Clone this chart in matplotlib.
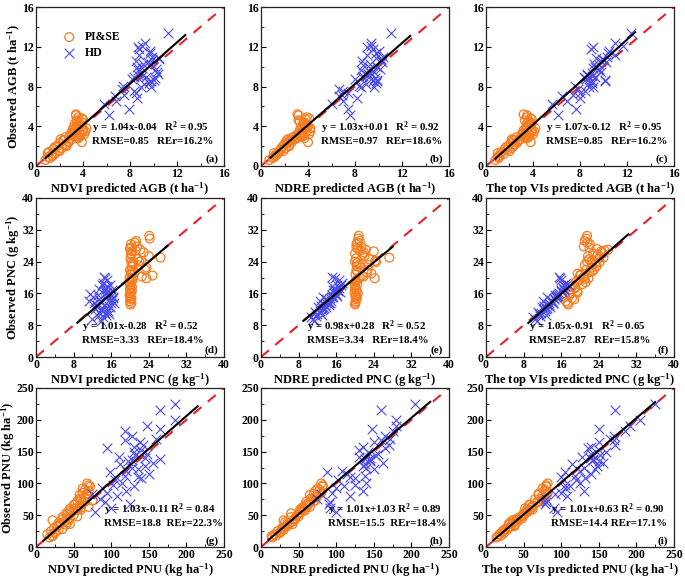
import matplotlib
matplotlib.use("Agg")
import matplotlib.pyplot as plt
from matplotlib.ticker import MultipleLocator

plt.rcParams['font.family'] = ['Liberation Serif', 'DejaVu Serif']
plt.rcParams['font.weight'] = 'bold'
plt.rcParams['mathtext.fontset'] = 'custom'
plt.rcParams['mathtext.rm'] = 'Liberation Serif:bold'
plt.rcParams['mathtext.it'] = 'Liberation Serif:bold'
plt.rcParams['mathtext.bf'] = 'Liberation Serif:bold'

# ---------------- data ----------------
# Row 1: AGB (t ha-1)
obs_agb_pise = [0.6, 0.9, 1.1, 0.8, 1.4, 1.2, 1.7, 1.5, 2.0, 1.8, 2.3, 2.1, 2.6, 2.4, 2.9, 2.7, 3.1, 3.3, 2.8, 3.6,
                3.4, 3.9, 3.2, 4.2, 3.7, 4.5, 3.0, 4.8, 3.5, 5.1, 2.5, 4.0, 3.8, 4.4, 2.2, 3.3, 4.9, 1.6, 2.9, 3.6,
                1.0, 1.9, 2.6, 3.0, 3.9, 4.1, 4.6, 5.2, 2.0, 2.7, 3.5, 4.3, 1.3, 3.1, 4.7, 2.4, 2.8, 3.2]
obs_agb_hd = [5.1, 6.2, 7.0, 5.7, 8.1, 6.8, 7.5, 9.2, 8.6, 10.3, 7.9, 9.8, 8.4, 11.2, 9.0, 10.7, 8.8, 12.1, 9.5, 11.6,
              7.3, 10.0, 8.3, 12.4, 9.3, 13.4, 10.5, 8.9, 11.0, 9.7, 7.7, 10.9, 8.6, 9.1, 11.8,
              7.1, 8.0, 9.9, 10.6, 11.4, 8.7, 9.4, 10.2, 6.5, 12.0, 9.0, 10.8]
ndvi_agb_pise = [0.8, 1.0, 1.3, 1.2, 1.1, 1.6, 1.5, 2.0, 1.8, 2.2, 2.0, 2.5, 2.3, 2.8, 2.5, 3.0, 2.9, 3.2, 3.4, 3.3,
                 3.7, 3.4, 3.8, 3.6, 4.0, 3.5, 3.2, 3.9, 4.2, 3.4, 2.8, 3.6, 4.3, 3.9, 2.6, 3.0, 3.6, 1.9, 3.7, 3.1,
                 1.4, 1.6, 2.4, 3.5, 3.2, 3.9, 3.5, 3.4, 2.6, 2.1, 4.0, 3.3, 1.0, 3.8, 4.0, 3.9, 3.6, 4.1]
ndvi_agb_hd = [6.2, 5.8, 6.7, 7.9, 7.4, 8.6, 8.3, 8.7, 9.8, 9.1, 8.9, 10.2, 9.6, 8.8, 9.4, 9.9, 8.2, 9.0, 10.3, 9.7,
               8.5, 8.6, 9.2, 9.3, 10.4, 11.2, 9.5, 10.1, 9.9, 8.7, 7.3, 10.5, 9.7, 9.0, 8.8,
               7.5, 9.8, 9.0, 8.5, 9.7, 10.0, 8.9, 9.6, 6.8, 8.7, 8.3, 10.5]
ndre_agb_pise = [0.7, 1.1, 1.2, 1.0, 1.5, 1.4, 1.7, 1.9, 1.9, 2.1, 2.2, 2.4, 2.5, 2.6, 2.7, 2.9, 3.0, 3.3, 3.1, 3.5,
                 3.6, 3.7, 3.5, 3.9, 3.8, 3.3, 3.4, 4.1, 3.9, 3.2, 2.4, 4.0, 4.2, 3.7, 2.0, 3.4, 3.9, 1.7, 3.0, 3.3,
                 1.2, 1.8, 2.2, 3.6, 3.4, 3.7, 3.2, 3.1, 2.4, 2.3, 4.2, 3.6, 1.1, 3.6, 3.8, 4.0, 3.7, 4.1]
ndre_agb_hd = [7.6, 6.0, 6.6, 7.4, 8.3, 8.2, 7.0, 9.0, 9.5, 9.3, 8.5, 10.1, 9.8, 9.0, 9.2, 10.2, 8.0, 9.4, 9.6, 10.0,
               7.4, 9.9, 8.9, 9.4, 9.1, 11.1, 10.3, 9.7, 10.4, 8.5, 6.6, 9.8, 9.9, 8.7, 9.5,
               6.9, 9.6, 9.3, 8.6, 9.8, 9.9, 9.4, 8.7, 7.0, 9.0, 8.6, 10.2]
top_agb_pise = [0.8, 1.0, 1.2, 1.1, 1.3, 1.5, 1.6, 2.0, 1.9, 2.2, 2.1, 2.4, 2.4, 2.7, 2.6, 2.9, 3.0, 3.2, 3.3, 3.4,
                3.6, 3.5, 3.6, 3.8, 3.9, 3.6, 3.3, 3.8, 4.1, 3.5, 2.7, 3.7, 4.2, 3.8, 2.5, 3.1, 3.5, 1.8, 3.6, 3.2,
                1.1, 1.7, 2.3, 3.4, 3.4, 3.8, 3.3, 3.2, 2.3, 2.2, 3.9, 3.5, 1.0, 3.7, 3.9, 3.8, 3.5, 4.0]
top_agb_hd = [6.1, 5.6, 6.5, 7.7, 7.6, 8.0, 8.4, 8.6, 9.0, 9.2, 8.8, 9.6, 9.0, 11.0, 9.3, 10.0, 8.5, 11.7, 9.8, 10.5,
              8.0, 9.3, 8.7, 11.0, 8.6, 12.3, 10.2, 8.4, 10.3, 9.5, 7.8, 9.4, 10.1, 9.0, 8.9,
              7.4, 9.1, 9.1, 9.8, 10.4, 10.1, 9.0, 9.6, 6.9, 9.1, 8.3, 9.9]

# Row 2: PNC (g kg-1)
obs_pnc_pise = [13.2, 14.0, 14.8, 15.5, 16.2, 17.0, 17.6, 18.3, 19.0, 19.6, 20.2, 20.8, 21.3, 21.9, 22.5, 23.1, 23.6,
                24.2, 24.8, 25.4, 26.0, 26.6, 27.2, 27.8, 28.4, 29.2, 30.5, 19.3, 22.0, 25.0, 15.1, 23.9, 20.5, 27.0,
                18.0, 21.5, 26.3, 24.6, 29.8, 16.6,
                14.5, 16.0, 18.8, 20.0, 21.0, 22.8, 24.0, 25.8, 27.5, 28.8, 13.6, 17.3, 19.8, 23.3, 26.8]
obs_pnc_hd = [9.6, 13.2, 10.4, 15.1, 11.8, 16.7, 12.5, 14.3, 19.8, 13.9, 10.9, 17.4, 15.6, 12.1, 18.6, 14.8, 11.3,
              16.2, 13.5, 15.9, 20.1, 12.8, 14.0, 17.9, 10.1, 15.3, 13.0, 16.9, 11.6, 14.6, 18.2, 12.3, 15.0, 13.7, 16.4,
              9.0, 11.0, 12.7, 14.2, 15.5, 16.8, 18.0, 19.3, 13.6, 15.2, 10.6, 17.1]
ndvi_pnc_pise = [20.1, 20.0, 20.3, 19.9, 20.2, 20.0, 20.4, 20.1, 19.9, 20.3, 22.5, 20.2, 21.0, 20.0, 23.5, 21.8, 20.6,
                 22.4, 20.1, 24.0, 20.3, 20.4, 20.0, 21.5, 20.2, 21.3, 24.1, 20.5, 23.2, 26.5, 20.0, 20.3, 24.8, 22.2,
                 20.1, 20.2, 22.9, 21.6, 24.2, 20.4,
                 20.2, 20.0, 20.1, 19.9, 20.5, 20.3, 22.0, 20.2, 20.1, 21.0, 20.3, 20.0, 23.5, 20.7, 21.2]
ndvi_pnc_hd = [12.0, 14.5, 13.2, 15.0, 14.1, 15.3, 13.0, 16.1, 14.6, 13.8, 15.6, 14.9, 15.2, 12.6, 14.3, 16.4, 13.5,
               14.8, 15.9, 11.5, 14.4, 15.5, 13.7, 15.1, 14.2, 16.0, 12.9, 14.7, 15.4, 13.3, 15.8, 14.0, 16.3, 12.3, 14.9,
               13.8, 14.6, 15.8, 11.2, 13.2, 16.2, 14.0, 15.2, 16.5, 12.1, 14.8, 13.5]
ndre_pnc_pise = [20.0, 20.1, 20.4, 20.2, 19.9, 20.3, 20.0, 20.5, 20.2, 20.6, 21.8, 20.1, 22.5, 20.3, 21.2, 22.9, 20.4,
                 24.3, 20.2, 22.0, 20.0, 24.0, 20.6, 21.4, 20.3, 21.0, 20.8, 20.2, 22.7, 27.3, 20.1, 24.5, 21.5, 22.3,
                 20.0, 20.5, 21.9, 23.0, 20.7, 20.3,
                 20.2, 20.6, 20.1, 21.0, 23.5, 20.4, 20.0, 21.6, 20.3, 20.5, 20.1, 20.0, 24.2, 20.9, 21.1]
ndre_pnc_hd = [11.0, 13.6, 11.8, 15.2, 12.9, 16.4, 12.2, 14.1, 15.8, 14.3, 12.0, 16.6, 15.9, 13.1, 17.3, 14.6, 11.4,
               15.5, 13.8, 16.0, 15.2, 12.7, 14.9, 15.0, 10.6, 16.2, 14.4, 15.7, 12.5, 13.9, 17.0, 13.4, 15.3, 14.7, 16.8,
               11.2, 12.5, 13.9, 12.6, 15.0, 15.3, 16.1, 16.6, 14.5, 13.2, 12.9, 15.8]
top_pnc_pise = [17.5, 17.0, 18.3, 17.8, 19.5, 18.0, 19.0, 20.5, 19.2, 21.0, 20.8, 20.2, 22.0, 21.3, 22.4, 21.0, 23.2,
                22.5, 24.0, 21.7, 22.8, 24.5, 23.6, 20.8, 22.1, 21.0, 21.5, 19.8, 23.0, 25.0, 16.8, 24.2, 20.0, 26.0,
                18.5, 22.6, 24.8, 21.9, 21.3, 19.4,
                18.8, 18.0, 21.2, 20.7, 19.5, 23.5, 21.5, 23.8, 22.0, 21.6, 17.3, 19.0, 21.8, 22.5, 25.2]
top_pnc_hd = [10.5, 13.0, 11.5, 14.9, 12.4, 16.0, 12.0, 13.8, 15.8, 14.1, 11.2, 16.3, 15.2, 12.8, 17.0, 14.5, 11.0,
              15.6, 13.3, 15.4, 15.5, 12.3, 14.0, 16.8, 10.0, 15.0, 13.5, 16.5, 12.6, 14.4, 17.6, 12.9, 14.8, 14.2, 16.1,
              10.8, 11.8, 13.6, 12.2, 14.7, 15.9, 16.3, 16.0, 14.3, 13.0, 12.7, 16.6]

# Row 3: PNU (kg ha-1)
obs_pnu_pise = [15, 18, 20, 22, 25, 27, 30, 32, 35, 37, 40, 42, 45, 47, 50, 52, 55, 58, 60, 62, 65, 67, 70, 72, 75,
                78, 80, 82, 85, 88, 90, 95, 100, 38, 48, 57, 63, 73, 28, 43,
                17, 24, 33, 39, 44, 53, 59, 66, 71, 76, 84, 92, 97, 36, 61]
obs_pnu_hd = [55, 62, 68, 75, 80, 85, 88, 92, 96, 100, 105, 108, 112, 115, 118, 122, 125, 128, 132, 135, 138, 142,
              146, 150, 155, 160, 165, 170, 175, 182, 190, 200, 215, 225, 140,
              70, 84, 98, 110, 120, 130, 137, 145, 152, 158, 168, 185]
ndvi_pnu_pise = [18, 22, 15, 25, 20, 30, 24, 28, 40, 33, 38, 22, 45, 35, 50, 42, 48, 55, 45, 60, 58, 52, 62, 55, 60,
                 65, 68, 58, 62, 70, 65, 72, 68, 30, 55, 45, 70, 75, 35, 42,
                 22, 26, 28, 42, 36, 40, 60, 50, 65, 58, 68, 62, 70, 45, 52]
ndvi_pnu_hd = [78, 100, 125, 85, 108, 95, 120, 88, 130, 115, 105, 140, 118, 150, 98, 135, 128, 145, 155, 122, 165,
               110, 148, 130, 95, 142, 138, 160, 128, 118, 148, 185, 165, 185, 145,
               92, 75, 102, 135, 120, 112, 128, 132, 140, 130, 118, 165]
ndre_pnu_pise = [15, 20, 18, 25, 22, 30, 28, 32, 35, 38, 42, 30, 45, 40, 48, 50, 52, 55, 58, 55, 62, 60, 65, 70, 68,
                 72, 75, 65, 80, 72, 78, 82, 80, 35, 50, 58, 65, 72, 28, 45,
                 14, 26, 35, 32, 45, 40, 52, 62, 60, 66, 70, 75, 82, 42, 55]
ndre_pnu_hd = [100, 92, 90, 75, 118, 95, 135, 100, 110, 140, 102, 125, 138, 115, 88, 150, 140, 135, 162, 145, 138,
               130, 155, 142, 165, 170, 150, 172, 165, 175, 180, 180, 160, 205, 145,
               92, 80, 125, 118, 108, 138, 145, 152, 130, 135, 160, 148]
top_pnu_pise = [14, 20, 18, 24, 22, 28, 30, 33, 38, 35, 42, 35, 48, 45, 50, 52, 55, 58, 55, 60, 62, 58, 68, 72, 65,
                78, 75, 70, 82, 80, 78, 80, 82, 32, 48, 55, 62, 75, 25, 42,
                16, 22, 38, 36, 40, 50, 62, 58, 68, 74, 70, 75, 80, 30, 52]
top_pnu_hd = [95, 90, 78, 80, 108, 100, 130, 105, 112, 125, 120, 132, 118, 140, 105, 145, 130, 148, 155, 150, 142,
              128, 140, 160, 135, 172, 150, 165, 170, 185, 192, 205, 172, 225, 138,
              80, 92, 105, 100, 125, 115, 142, 152, 150, 140, 170, 150]

# Regression lines (slope, intercept, x start, x end) and statistics
slopes = [1.04, 1.03, 1.07, 1.01, 0.98, 1.05, 1.03, 1.01, 1.01]
intercepts = [-0.04, 0.01, -0.12, -0.28, 0.28, -0.91, -0.11, 1.03, 0.63]
fit_x0 = [0.8, 0.8, 0.8, 8.8, 9.0, 9.0, 10, 10, 10]
fit_x1 = [12.7, 12.7, 12.7, 28.0, 28.0, 30.3, 215, 225, 225]
eq_text = ["y = 1.04x-0.04   R$^2$ = 0.95", "y = 1.03x+0.01   R$^2$ = 0.92", "y = 1.07x-0.12   R$^2$ = 0.95",
           "y = 1.01x-0.28   R$^2$ = 0.52", "y = 0.98x+0.28   R$^2$ = 0.52", "y = 1.05x-0.91   R$^2$ = 0.65",
           "y = 1.03x-0.11 R$^2$ = 0.84", "y = 1.01x+1.03 R$^2$ = 0.89", "y = 1.01x+0.63 R$^2$ = 0.90"]
err_text = ["RMSE=0.85   REr=16.2%", "RMSE=0.97   REr=18.6%", "RMSE=0.85   REr=16.2%",
            "RMSE=3.33   REr=18.4%", "RMSE=3.34   REr=18.4%", "RMSE=2.87   REr=15.8%",
            "RMSE=18.8  REr=22.3%", "RMSE=15.5  REr=18.4%", "RMSE=14.4 REr=17.1%"]
panel_tags = ["(a)", "(b)", "(c)", "(d)", "(e)", "(f)", "(g)", "(h)", "(i)"]
x_labels = ["NDVI predicted AGB (t ha$^{-1}$)", "NDRE predicted AGB (t ha$^{-1}$)", "The top VIs predicted AGB (t ha$^{-1}$)",
            "NDVI predicted PNC (g kg$^{-1}$)", "NDRE predicted PNC (g kg$^{-1}$)", "The top VIs predicted PNC (g kg$^{-1}$)",
            "NDVI predicted PNU (kg ha$^{-1}$)", "NDRE predicted PNU (kg ha$^{-1}$)", "The top VIs predicted PNU (kg ha$^{-1}$)"]
y_labels = ["Observed AGB (t ha$^{-1}$)", "Observed PNC (g kg$^{-1}$)", "Observed PNU (kg ha$^{-1}$)"]
legend_labels = ["PI&SE", "HD"]
axis_max = [16, 40, 250]
major_step = [4, 8, 50]

pred_pise = [ndvi_agb_pise, ndre_agb_pise, top_agb_pise,
             ndvi_pnc_pise, ndre_pnc_pise, top_pnc_pise,
             ndvi_pnu_pise, ndre_pnu_pise, top_pnu_pise]
pred_hd = [ndvi_agb_hd, ndre_agb_hd, top_agb_hd,
           ndvi_pnc_hd, ndre_pnc_hd, top_pnc_hd,
           ndvi_pnu_hd, ndre_pnu_hd, top_pnu_hd]
obs_pise = [obs_agb_pise, obs_pnc_pise, obs_pnu_pise]
obs_hd = [obs_agb_hd, obs_pnc_hd, obs_pnu_hd]

# ---------------- layout (positions only) ----------------
fig = plt.figure(figsize=(6.85, 5.79), dpi=100)
lefts = [36 / 685, 261 / 685, 486 / 685]
bottoms = [1 - 166 / 579, 1 - 357 / 579, 1 - 547 / 579]
w = 188 / 685
h = 159 / 579
txt_x = [0.30, 0.32, 0.32, 0.245, 0.245, 0.23, 0.36, 0.355, 0.345]
txt_y1 = [0.24, 0.24, 0.24, 0.19, 0.19, 0.19, 0.232, 0.232, 0.232]
txt_y2 = [0.155, 0.155, 0.155, 0.105, 0.105, 0.105, 0.147, 0.147, 0.147]
tag_y = [0.045, 0.045, 0.045, 0.045, 0.045, 0.045, 0.035, 0.035, 0.035]
ylab_x = [-0.112, -0.122, -0.148]

orange = '#F57C1F'
blue = '#4B4BE8'

for i in range(9):
    r, c = divmod(i, 3)
    ax = fig.add_axes([lefts[c], bottoms[r], w, h])
    m = axis_max[r]
    ax.plot([0, m], [0, m], color='#E8202A', lw=1.5, ls=(0, (5, 4)), zorder=1)
    ax.scatter(pred_pise[i], obs_pise[r], s=40, facecolors='none', edgecolors=orange, linewidths=0.9,
               label=legend_labels[0], zorder=2)
    ax.scatter(pred_hd[i], obs_hd[r], s=48, marker='x', color=blue, linewidths=0.8,
               label=legend_labels[1], zorder=2)
    xs = [fit_x0[i], fit_x1[i]]
    ys = [slopes[i] * x + intercepts[i] for x in xs]
    ax.plot(xs, ys, color='black', lw=1.5, zorder=3)
    ax.set_xlim(0, m)
    ax.set_ylim(0, m)
    ax.xaxis.set_major_locator(MultipleLocator(major_step[r]))
    ax.yaxis.set_major_locator(MultipleLocator(major_step[r]))
    ax.xaxis.set_minor_locator(MultipleLocator(major_step[r] / 2))
    ax.yaxis.set_minor_locator(MultipleLocator(major_step[r] / 2))
    ax.tick_params(which='both', direction='in', top=False, right=False, labelsize=8.5, pad=1.5)
    ax.tick_params(which='major', length=3.5, width=0.8)
    ax.tick_params(which='minor', length=2, width=0.6)
    for lab in ax.get_xticklabels() + ax.get_yticklabels():
        lab.set_fontweight('bold')
    for sp in ax.spines.values():
        sp.set_linewidth(0.9)
        sp.set_color('#222222')
    ax.set_xlabel(x_labels[i], fontsize=9, fontweight='bold', labelpad=0)
    if c == 0:
        ax.set_ylabel(y_labels[r], fontsize=9, fontweight='bold', va='center')
        ax.yaxis.set_label_coords(ylab_x[r], 0.5)
    ax.text(txt_x[i], txt_y1[i], eq_text[i], transform=ax.transAxes, fontsize=7.8, fontweight='bold', va='center')
    ax.text(txt_x[i], txt_y2[i], err_text[i], transform=ax.transAxes, fontsize=7.8, fontweight='bold', va='center')
    ax.text(0.97, tag_y[i], panel_tags[i], transform=ax.transAxes, fontsize=8, fontweight='bold', ha='right', va='center')
    if i == 0:
        ax.legend(loc='upper left', bbox_to_anchor=(0.07, 0.9), frameon=False,
                  prop={'weight': 'bold', 'size': 8.5}, handletextpad=0.3, labelspacing=0.3, borderpad=0.2)

fig.savefig('out.png', dpi=100)
